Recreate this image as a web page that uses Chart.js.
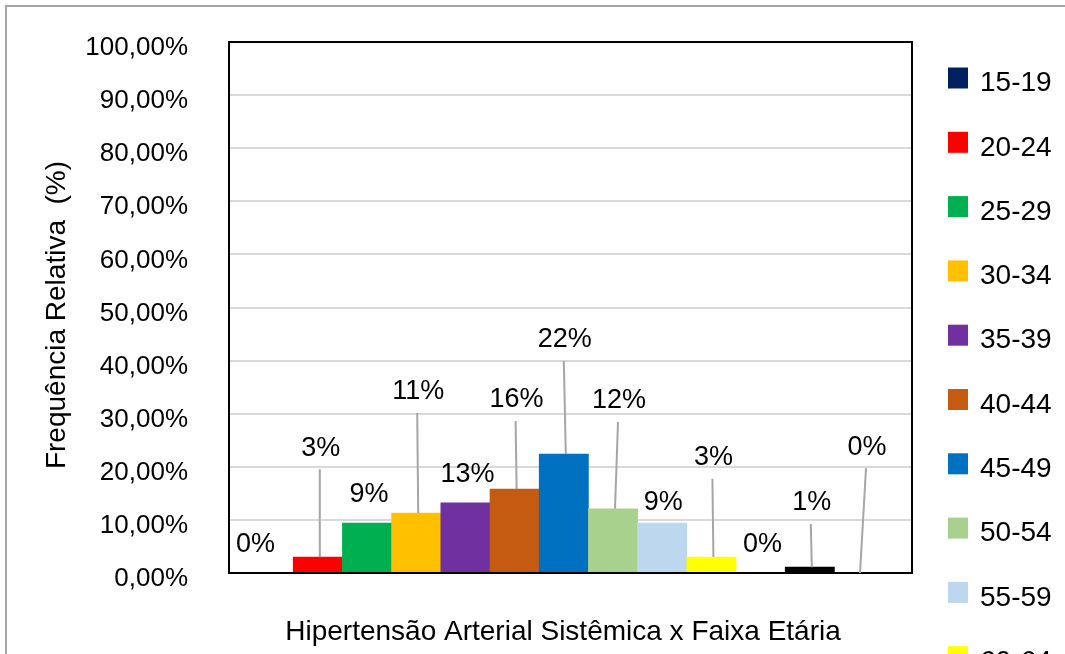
<!DOCTYPE html>
<html>
<head>
<meta charset="utf-8">
<script src="https://cdn.jsdelivr.net/npm/chart.js@4"></script>
<style>
  html, body { margin: 0; padding: 0; background: #fff; }
  #wrap { width: 1065px; height: 654px; position: relative; }
</style>
</head>
<body>
<div id="wrap"><canvas id="chart" width="1065" height="654"></canvas></div>
<script>
// faixas etárias e frequências relativas (%)
const ageGroups = ['15-19', '20-24', '25-29', '30-34', '35-39', '40-44', '45-49',
                   '50-54', '55-59', '60-64', '65-69', '70-74', '75-79'];
const freqValues = [0, 3.0, 9.4, 11.3, 13.2, 15.8, 22.4, 12.1, 9.4, 3.0, 0, 1.1, 0];
const freqLabels = ['0%', '3%', '9%', '11%', '13%', '16%', '22%', '12%', '9%', '3%', '0%', '1%', '0%'];
const barColors  = ['#002060', '#ff0000', '#00b050', '#ffc000', '#7030a0', '#c55a11', '#0070c0',
                    '#a9d18e', '#bdd7ee', '#ffff00', '#7f7f7f', '#000000', '#833c0b'];
const yTicks = [0, 10, 20, 30, 40, 50, 60, 70, 80, 90, 100];

const xTitle = 'Hipertensão Arterial Sistêmica x Faixa Etária';
const yTitle = 'Frequência Relativa  (%)';

// posição manual dos rótulos (dx em px a partir do centro da barra, y em % do eixo), linha guia sim/não
const labelPlace = [
    { dx: -13, y: 5.3,  line: false },
    { dx: 3,   y: 23.5, line: true },
    { dx: 2,   y: 14.7, line: false },
    { dx: 2,   y: 34.1, line: true },
    { dx: 2,   y: 18.6, line: false },
    { dx: 2,   y: 32.6, line: true },
    { dx: 1,   y: 43.9, line: true },
    { dx: 6,   y: 32.4, line: true },
    { dx: 1,   y: 13.2, line: false },
    { dx: 2,   y: 21.7, line: true },
    { dx: 2,   y: 5.3,  line: false },
    { dx: 2,   y: 13.2, line: true },
    { dx: 8,   y: 23.7, line: true },
];

const FONT = '"Liberation Sans", Arial, sans-serif';
const PLOT = { left: 229, top: 42, right: 912, bottom: 573 };

const barData = ageGroups.map((g, i) => ({ x: i, y: freqValues[i] }));

const decorPlugin = {
    id: 'decor',
    beforeDraw(chart) {
        const ctx = chart.ctx;
        ctx.save();
        ctx.fillStyle = '#fff';
        ctx.fillRect(0, 0, chart.width, chart.height);
        ctx.strokeStyle = '#a6a6a6';
        ctx.lineWidth = 2;
        ctx.strokeRect(6, 6, chart.width + 20, chart.height + 20);
        ctx.restore();
    },
    afterDatasetsDraw(chart) {
        const ctx = chart.ctx;
        const area = chart.chartArea;
        const yScale = chart.scales.y;
        ctx.save();
        // plot border
        ctx.strokeStyle = '#000';
        ctx.lineWidth = 2;
        ctx.strokeRect(area.left, area.top, area.right - area.left, area.bottom - area.top);

        // y tick labels
        ctx.fillStyle = '#000';
        ctx.font = '26px ' + FONT;
        ctx.textAlign = 'right';
        ctx.textBaseline = 'middle';
        yTicks.forEach(v => {
            ctx.fillText(v.toFixed(2).replace('.', ',') + '%', 188, yScale.getPixelForValue(v) + 6);
        });

        // data labels with leader lines
        ctx.font = '27px ' + FONT;
        ctx.textAlign = 'center';
        const bars = chart.getDatasetMeta(0).data;
        bars.forEach((bar, i) => {
            const p = labelPlace[i];
            const lx = bar.x + p.dx;
            const ly = yScale.getPixelForValue(p.y);
            if (p.line) {
                ctx.strokeStyle = '#a6a6a6';
                ctx.lineWidth = 2;
                ctx.beginPath();
                ctx.moveTo(lx - 1, ly + 21);
                ctx.lineTo(bar.x + (i === 12 ? 1 : 2), bar.y);
                ctx.stroke();
            }
            ctx.fillText(freqLabels[i], lx, ly);
        });

        // axis titles
        ctx.font = '28px ' + FONT;
        ctx.fillText(xTitle, 563, 632);
        ctx.save();
        ctx.translate(57, 315);
        ctx.rotate(-Math.PI / 2);
        ctx.fillText(yTitle, 0, 0);
        ctx.restore();

        // legend (cut off at the bottom like the original)
        ctx.textAlign = 'left';
        ageGroups.forEach((g, i) => {
            const cy = 77.5 + i * 64.3;
            ctx.fillStyle = barColors[i];
            ctx.fillRect(948, cy - 10, 20, 21);
            ctx.fillStyle = '#000';
            ctx.fillText(g, 980, cy + 6);
        });
        ctx.restore();
    },
};

new Chart(document.getElementById('chart'), {
    type: 'bar',
    data: {
        datasets: [{
            label: 'Frequência Relativa',
            data: barData,
            backgroundColor: barColors,
            borderWidth: 0,
            barPercentage: 1.0,
            categoryPercentage: 1.0,
        }],
    },
    plugins: [decorPlugin],
    options: {
        responsive: false,
        animation: false,
        layout: { padding: { left: 0, top: PLOT.top, right: 1065 - PLOT.right, bottom: 0 } },
        plugins: {
            legend: { display: false },
            tooltip: { enabled: false },
        },
        scales: {
            x: {
                type: 'linear',
                offset: false,
                min: -0.805,
                max: 13.077,
                grid: { display: false },
                border: { display: false },
                ticks: { display: false },
                afterFit(scale) { scale.height = 654 - PLOT.bottom; },
            },
            y: {
                min: 0,
                max: 100,
                afterBuildTicks(scale) { scale.ticks = yTicks.map(v => ({ value: v })); },
                grid: { color: '#d9d9d9', lineWidth: 2, drawTicks: false },
                border: { display: false },
                ticks: { display: false },
                afterFit(scale) { scale.width = PLOT.left; },
            },
        },
    },
});
</script>
</body>
</html>
